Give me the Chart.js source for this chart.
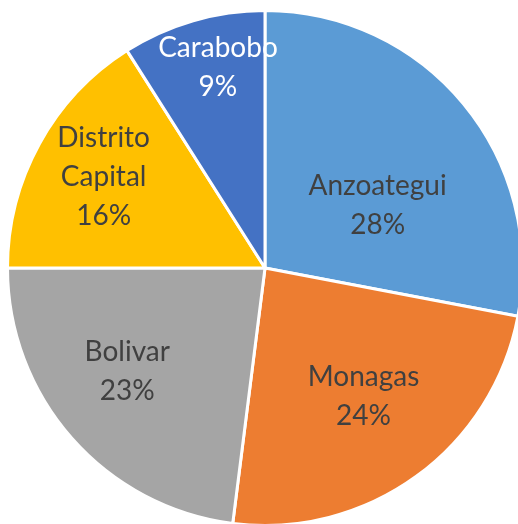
<!DOCTYPE html>
<html>
<head>
<meta charset="utf-8">
<script src="https://cdn.jsdelivr.net/npm/chart.js@4"></script>
<style>
  html, body { margin: 0; padding: 0; background: #fff; overflow: hidden; }
  #wrap { position: absolute; left: 0; top: 0; width: 524px; height: 528px; }
</style>
</head>
<body>
<div id="wrap"><canvas id="PieChart"></canvas></div>
<script>
    var estados = ['Anzoategui', 'Monagas', 'Bolivar', 'Distrito\nCapital', 'Carabobo'];
    var porcentajes = [28, 24, 23, 16, 9];
    var colores = ['#5B9BD5', '#ED7D31', '#A5A5A5', '#FFC000', '#4472C4'];
    var colorTexto = ['#404040', '#404040', '#404040', '#404040', '#FFFFFF'];

    // label placement (angle shift in degrees, radius fraction), like excel best fit
    var labelAjuste = [[10.6, 0.50], [-1.4, 0.63], [4.4, 0.67], [0.7, 0.72], [3.0, 0.80]];

    var etiquetas = {
        id: 'etiquetas',
        afterDatasetsDraw: function (chart) {
            var ctx = chart.ctx;
            var meta = chart.getDatasetMeta(0);
            ctx.save();
            ctx.font = '28px Lato';
            ctx.textAlign = 'center';
            ctx.textBaseline = 'middle';
            meta.data.forEach(function (arc, i) {
                var p = arc.getProps(['x', 'y', 'startAngle', 'endAngle', 'outerRadius'], true);
                var mid = (p.startAngle + p.endAngle) / 2 + labelAjuste[i][0] * Math.PI / 180;
                var r = p.outerRadius * labelAjuste[i][1];
                var cx = p.x + Math.cos(mid) * r;
                var cy = p.y + Math.sin(mid) * r;
                var lineas = estados[i].split('\n').concat([porcentajes[i] + '%']);
                var lh = 39;
                var y0 = cy - (lineas.length - 1) * lh / 2;
                ctx.fillStyle = colorTexto[i];
                lineas.forEach(function (t, k) {
                    ctx.fillText(t, cx, y0 + k * lh);
                });
            });
            ctx.restore();
        }
    };

    var ctx = document.getElementById('PieChart').getContext('2d');
    var data = {
        labels: estados,
        datasets: [{
            data: porcentajes,
            backgroundColor: colores,
            borderColor: '#FFFFFF',
            borderWidth: 3
        }]
    };
    var myPieChart = new Chart(ctx, {
        type: 'pie',
        data: data,
        options: {
            responsive: true,
            maintainAspectRatio: false,
            animation: false,
            layout: { padding: { top: 9, left: 6, right: 0, bottom: 1 } },
            plugins: {
                legend: { display: false },
                tooltip: { enabled: false }
            }
        },
        plugins: [etiquetas]
    });
</script>
</body>
</html>
